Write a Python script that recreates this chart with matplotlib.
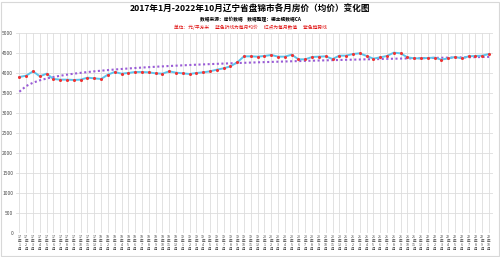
import numpy as np
import matplotlib
matplotlib.use("Agg")
import matplotlib.pyplot as plt
from matplotlib.patches import Rectangle

plt.rcParams['font.family'] = ['Noto Sans CJK SC', 'DejaVu Sans']

# months Jan 2017 .. Oct 2022
years = [17, 18, 19, 20, 21, 22]
months = [(y, m) for y in years for m in range(1, 13)][:70]
labels = ['%d年%d月' % (y, m) for y, m in months]

# average price, yuan / m2
prices = [3892, 3925, 4033, 3908, 3975, 3842, 3825, 3825, 3817, 3825,
          3875, 3858, 3842, 3950, 4017, 3975, 3992, 4017, 4017, 4008,
          3983, 3975, 4033, 4000, 3983, 3967, 3992, 4008, 4033, 4075,
          4108, 4158, 4258, 4408, 4408, 4400, 4417, 4442, 4400, 4400,
          4450, 4333, 4333, 4392, 4400, 4408, 4340, 4425, 4425, 4467,
          4483, 4417, 4350, 4383, 4417, 4500, 4483, 4383, 4358, 4358,
          4367, 4375, 4325, 4358, 4392, 4358, 4408, 4417, 4425, 4467]

title = '2017年1月-2022年10月辽宁省盘锦市各月房价（均价）变化图'
line2 = '数据来源：房价数据    数据整理：德主视数据CA'
line3 = '单位：元/平方米      蓝色折线为每月均价      红点为每月数值      紫色趋势线'

x = np.arange(len(prices))
# logarithmic trend line fitted to the data (like the spreadsheet trendline)
b, a = np.polyfit(np.log(x + 1), prices, 1)
trend = a + b * np.log(x + 1)

fig = plt.figure(figsize=(5, 2.57), dpi=100)
ax = fig.add_axes([0.032, 0.0945, 0.953, 0.7785])

ax.plot(x, prices, color='#5ec4ec', lw=1.4, zorder=3)
ax.plot(x, prices, 'o', color='#f03030', ms=2.2, mew=0, zorder=4)
ax.plot(x, trend, color='#9a5cd6', lw=1.5, ls=(0, (1, 1.2)), zorder=2)

ax.set_xlim(-0.5, len(prices) - 0.5)
ax.set_ylim(0, 5000)
ax.set_yticks(range(0, 5001, 500))
ax.tick_params(axis='y', labelsize=3.5, length=0, pad=2, colors='#444444')
ax.set_xticks(x)
ax.set_xticklabels(['\n'.join([l.split('年')[0], '年', l.split('年')[1][:-1], '月']) for l in labels],
                   fontsize=2.6, linespacing=0.9, color='#444444')
ax.tick_params(axis='x', length=0, pad=2)
ax.grid(True, color='#dddddd', lw=0.6)
ax.set_axisbelow(True)
for s in ax.spines.values():
    s.set_visible(False)
ax.axhline(0, color='#cccccc', lw=0.6)

fig.text(0.5, 0.962, title, ha='center', va='center', fontsize=6.2, fontweight='bold')
fig.text(0.5, 0.925, line2, ha='center', va='center', fontsize=3.4, fontweight='bold')
fig.text(0.5, 0.895, line3, ha='center', va='center', fontsize=3.4, color='#e01010')

fig.patches.append(Rectangle((0.002, 0.004), 0.995, 0.99, transform=fig.transFigure,
                             fill=False, ec='#d8d8d8', lw=0.8))

fig.savefig('out.png', dpi=100)
